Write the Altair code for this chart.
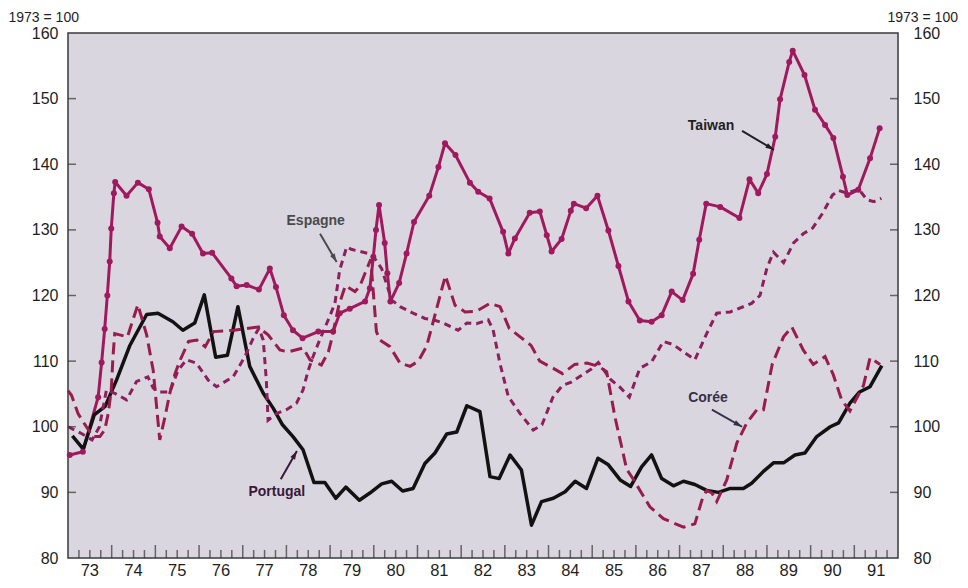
import math
import altair as alt
import pandas as pd

# ---------------- data ----------------
taiwan_t = [1973.04, 1973.34, 1973.69, 1973.77, 1973.84, 1973.90, 1973.955, 1973.99, 1974.05, 1974.08,
            1974.34, 1974.60, 1974.85, 1975.05, 1975.10, 1975.33, 1975.60, 1975.84, 1976.09, 1976.30,
            1976.74, 1976.86, 1977.09, 1977.37, 1977.62, 1977.76, 1977.94, 1978.15, 1978.37, 1978.73,
            1979.07, 1979.22, 1979.45, 1979.80, 1979.91, 1979.99, 1980.05, 1980.12, 1980.25, 1980.31,
            1980.38, 1980.58, 1980.75, 1980.92, 1981.27, 1981.48, 1981.63, 1981.87, 1982.20, 1982.39,
            1982.65, 1982.96, 1983.08, 1983.23, 1983.57, 1983.80, 1983.96, 1984.07, 1984.30, 1984.51,
            1984.58, 1984.86, 1985.12, 1985.37, 1985.60, 1985.83, 1986.09, 1986.36, 1986.59, 1986.82,
            1987.07, 1987.31, 1987.45, 1987.61, 1987.93, 1988.37, 1988.60, 1988.80, 1989.00, 1989.19,
            1989.30, 1989.51, 1989.59, 1989.86, 1990.10, 1990.33, 1990.52, 1990.74, 1990.84, 1991.09,
            1991.36, 1991.58]
taiwan_v = [95.7, 96.2, 104.5, 109.8, 114.9, 120.0, 125.2, 130.2, 135.6, 137.3,
            135.2, 137.2, 136.2, 131.1, 129.0, 127.2, 130.5, 129.4, 126.4, 126.5,
            122.6, 121.4, 121.6, 120.9, 124.1, 121.3, 117.0, 114.7, 113.5, 114.5,
            114.5, 117.3, 118.0, 119.1, 121.1, 125.9, 130.0, 133.8, 128.0, 123.4,
            119.1, 121.9, 126.4, 131.2, 135.2, 139.6, 143.2, 141.4, 137.2, 135.8,
            134.8, 129.7, 126.4, 128.7, 132.6, 132.8, 129.2, 126.7, 128.6, 132.9,
            134.0, 133.3, 135.2, 129.9, 124.5, 119.1, 116.2, 116.0, 117.0, 120.6,
            119.3, 123.3, 128.5, 134.0, 133.5, 131.8, 137.7, 135.6, 138.5, 144.2,
            149.9, 155.6, 157.3, 153.6, 148.3, 146.0, 144.0, 138.1, 135.3, 136.1,
            140.9, 145.5]

portugal_t = [1973.10, 1973.35, 1973.60, 1973.85, 1974.11, 1974.41, 1974.80, 1975.06, 1975.40, 1975.63,
              1975.90, 1976.12, 1976.38, 1976.65, 1976.89, 1977.16, 1977.47, 1977.70, 1977.91, 1978.15,
              1978.38, 1978.63, 1978.88, 1979.13, 1979.36, 1979.67, 1979.91, 1980.18, 1980.41, 1980.66,
              1980.90, 1981.17, 1981.40, 1981.67, 1981.90, 1982.13, 1982.43, 1982.66, 1982.87, 1983.12,
              1983.38, 1983.61, 1983.84, 1984.11, 1984.38, 1984.61, 1984.87, 1985.13, 1985.37, 1985.64,
              1985.88, 1986.13, 1986.36, 1986.59, 1986.86, 1987.09, 1987.35, 1987.62, 1987.89, 1988.16,
              1988.46, 1988.65, 1988.92, 1989.15, 1989.38, 1989.64, 1989.87, 1990.14, 1990.45, 1990.64,
              1990.90, 1991.12, 1991.36, 1991.63]
portugal_v = [98.6, 96.6, 101.8, 103.1, 107.1, 112.3, 117.1, 117.3, 116.0, 114.7,
              115.8, 120.1, 110.6, 110.9, 118.3, 109.2, 105.1, 102.8, 100.3, 98.5,
              96.5, 91.5, 91.5, 89.1, 90.8, 88.8, 89.9, 91.3, 91.7, 90.2,
              90.6, 94.4, 96.0, 98.9, 99.2, 103.2, 102.3, 92.4, 92.1, 95.7,
              93.4, 85.0, 88.6, 89.1, 90.1, 91.7, 90.6, 95.2, 94.2, 91.9,
              90.9, 93.9, 95.7, 92.1, 91.0, 91.7, 91.2, 90.3, 90.0, 90.6,
              90.6, 91.4, 93.2, 94.5, 94.5, 95.7, 96.0, 98.5, 100.0, 100.6,
              103.6, 105.3, 106.1, 109.3]

espagne_t = [1973.00, 1973.30, 1973.55, 1973.72, 1973.88, 1974.07, 1974.34, 1974.57, 1974.83, 1974.95,
             1975.10, 1975.33, 1975.52, 1975.71, 1975.94, 1976.21, 1976.40, 1976.78, 1977.05, 1977.24,
             1977.37, 1977.47, 1977.54, 1977.58, 1977.77, 1978.00, 1978.23, 1978.38, 1978.50, 1978.61,
             1978.76, 1978.99, 1979.11, 1979.22, 1979.38, 1979.50, 1979.88, 1980.05, 1980.18, 1980.41,
             1980.60, 1980.90, 1981.17, 1981.36, 1981.59, 1981.93, 1982.13, 1982.35, 1982.62, 1982.73,
             1982.89, 1983.08, 1983.35, 1983.65, 1983.85, 1984.10, 1984.32, 1984.52, 1984.75, 1984.98,
             1985.14, 1985.42, 1985.64, 1985.85, 1986.09, 1986.36, 1986.63, 1986.86, 1987.09, 1987.35,
             1987.62, 1987.85, 1988.16, 1988.65, 1988.84, 1989.00, 1989.15, 1989.38, 1989.61, 1989.83,
             1990.05, 1990.27, 1990.50, 1990.64, 1990.83, 1991.10, 1991.29, 1991.45, 1991.62]
espagne_v = [100.0, 99.0, 98.0, 100.0, 105.6, 105.1, 104.1, 106.9, 107.6, 105.9,
             105.3, 105.3, 108.6, 110.2, 109.7, 107.1, 106.1, 107.6, 110.7, 113.5,
             115.0, 113.2, 107.1, 101.0, 102.0, 102.6, 103.6, 105.6, 108.6, 110.7,
             113.2, 116.8, 118.8, 123.9, 127.4, 127.0, 126.4, 125.4, 124.1, 119.3,
             118.3, 117.3, 116.5, 116.3, 115.8, 114.7, 115.8, 115.7, 116.3, 114.8,
             109.6, 104.6, 102.0, 99.5, 100.3, 104.5, 106.3, 106.8, 107.8, 108.8,
             109.8, 107.2, 106.0, 104.5, 108.9, 109.9, 113.0, 112.5, 111.4, 110.2,
             114.2, 117.3, 117.5, 118.8, 120.0, 124.2, 126.6, 125.0, 128.0, 129.4,
             130.3, 132.5, 135.3, 136.0, 135.6, 136.2, 134.6, 134.3, 134.8]

coree_t = [1973.00, 1973.08, 1973.23, 1973.42, 1973.57, 1973.73, 1973.84, 1973.92, 1973.99, 1974.03,
           1974.07, 1974.36, 1974.60, 1974.80, 1974.95, 1975.10, 1975.22, 1975.33, 1975.45, 1975.57,
           1975.76, 1975.95, 1976.14, 1976.33, 1976.80, 1977.35, 1977.58, 1977.85, 1978.04, 1978.38,
           1978.54, 1978.80, 1978.96, 1979.03, 1979.20, 1979.35, 1979.57, 1979.68, 1979.80, 1979.93,
           1980.06, 1980.14, 1980.37, 1980.60, 1980.83, 1981.02, 1981.21, 1981.36, 1981.51, 1981.64,
           1981.86, 1982.09, 1982.35, 1982.66, 1982.89, 1983.10, 1983.35, 1983.60, 1983.80, 1984.11,
           1984.32, 1984.60, 1984.88, 1985.15, 1985.33, 1985.52, 1985.79, 1985.94, 1986.32, 1986.63,
           1987.09, 1987.35, 1987.51, 1987.62, 1987.74, 1987.85, 1988.08, 1988.31, 1988.54, 1988.77,
           1988.92, 1989.12, 1989.38, 1989.57, 1989.83, 1990.06, 1990.33, 1990.52, 1990.71, 1990.90,
           1991.21, 1991.36, 1991.59]
coree_v = [105.5, 104.8, 102.0, 100.0, 98.5, 98.5, 99.5, 102.0, 105.6, 110.7,
           114.2, 113.7, 118.6, 114.0, 108.6, 98.0, 101.5, 105.1, 108.1, 110.2,
           113.0, 113.2, 112.2, 114.5, 114.7, 115.2, 114.0, 111.7, 111.4, 112.0,
           110.2, 109.4, 111.4, 113.2, 118.5, 121.5, 120.6, 121.4, 123.4, 125.5,
           114.5, 113.2, 112.2, 109.7, 109.2, 110.0, 112.3, 116.0, 119.8, 123.0,
           118.5, 117.5, 117.6, 118.8, 118.3, 115.0, 113.7, 112.4, 110.0, 108.9,
           108.1, 109.5, 109.7, 109.2, 108.4, 101.5, 93.5, 92.0, 87.8, 86.0,
           84.7, 85.2, 88.8, 90.3, 89.9, 88.6, 91.9, 97.5, 100.6, 102.6,
           102.6, 109.5, 113.7, 115.2, 111.7, 109.5, 110.7, 107.9, 104.1, 102.4,
           106.3, 110.5, 109.5]

y_ticks = [80, 90, 100, 110, 120, 130, 140, 150, 160]
years = list(range(1973, 1992))
year_labels = ["73", "74", "75", "76", "77", "78", "79", "80", "81", "82",
               "83", "84", "85", "86", "87", "88", "89", "90", "91"]

ann_label = ["Taiwan", "Espagne", "Portugal", "Corée"]
ann_t = [1987.72, 1978.67, 1977.78, 1987.65]
ann_v = [145.8, 131.4, 90.0, 104.4]
arrow_t0 = [1988.43, 1978.77, 1977.87, 1987.74]
arrow_v0 = [145.1, 129.4, 92.0, 102.6]
arrow_t1 = [1989.16, 1979.15, 1978.24, 1988.43]
arrow_v1 = [142.2, 125.1, 96.3, 100.0]

# ---------------- styling ----------------
ann_colors = ["#1f1f24", "#4a4a4e", "#3a1838", "#34304a"]
C_TW = "#a0195e"
C_ES = "#8c1f5c"
C_KO = "#981c4c"
C_PT = "#121212"
AXC = "#333333"
TXT = "#1e1e1e"
FONT = "Liberation Sans"

W, H = 830, 525
T0, T1 = 1973, 1992
V0, V1 = 80, 160
PX_T = W / (T1 - T0)
PX_V = H / (V1 - V0)

xs = alt.Scale(domain=[T0, T1], nice=False, zero=False)
ys = alt.Scale(domain=[V0, V1], nice=False, zero=False)
X = alt.X("t:Q", scale=xs, axis=None)
Yn = alt.Y("v:Q", scale=ys, axis=None)


def frame(t, v):
    return pd.DataFrame({"t": t, "v": v})


def yaxis(orient, pad, title_x):
    return alt.Axis(orient=orient, values=y_ticks, domain=False, ticks=False, tickSize=0,
                    grid=False, labelFontSize=16, labelColor=TXT, labelPadding=pad,
                    title="1973 = 100", titleAngle=0, titleAlign="left",
                    titleBaseline="middle", titleX=title_x, titleY=-16,
                    titleFontSize=14, titleFontWeight="normal", titleColor=TXT)


taiwan_line = alt.Chart(frame(taiwan_t, taiwan_v)).mark_line(
    color=C_TW, strokeWidth=3, strokeJoin="round").encode(
    x=X, y=alt.Y("v:Q", scale=ys, axis=yaxis("left", 10, -60)))
taiwan_pts = alt.Chart(frame(taiwan_t, taiwan_v)).mark_circle(
    color=C_TW, size=36, opacity=1).encode(x=X, y=Yn)
portugal_line = alt.Chart(frame(portugal_t, portugal_v)).mark_line(
    color=C_PT, strokeWidth=3.5, strokeJoin="round").encode(
    x=X, y=alt.Y("v:Q", scale=ys, axis=yaxis("right", 15, -11)))
espagne_line = alt.Chart(frame(espagne_t, espagne_v)).mark_line(
    color=C_ES, strokeWidth=3, strokeDash=[7, 5]).encode(x=X, y=Yn)
coree_line = alt.Chart(frame(coree_t, coree_v)).mark_line(
    color=C_KO, strokeWidth=3, strokeDash=[12, 6]).encode(x=X, y=Yn)

# axis ticks (inside the frame)
ytick_df = pd.DataFrame({"v": y_ticks[1:-1]})
left_ticks = alt.Chart(ytick_df).mark_tick(orient="horizontal", size=8, thickness=1.5,
                                           color=AXC).encode(y=Yn, x=alt.value(4))
right_ticks = alt.Chart(ytick_df).mark_tick(orient="horizontal", size=8, thickness=1.5,
                                            color=AXC).encode(y=Yn, x=alt.value(W - 4))
minor_df = pd.DataFrame({"t": [T0 + q / 4 for q in range(1, 4 * (T1 - T0)) if q % 4]})
major_df = pd.DataFrame({"t": years[1:]})
minor_ticks = alt.Chart(minor_df).mark_tick(orient="vertical", size=8, thickness=1.5,
                                            color=AXC).encode(x=X, y=alt.value(H - 4))
major_ticks = alt.Chart(major_df).mark_tick(orient="vertical", size=13, thickness=1.5,
                                            color=AXC).encode(x=X, y=alt.value(H - 6.5))
year_df = pd.DataFrame({"t": [y + 0.5 for y in years], "label": year_labels})
year_text = alt.Chart(year_df).mark_text(fontSize=16.5, color=TXT, baseline="middle").encode(
    x=X, y=alt.value(H + 13), text="label:N")

# annotations
ann_df = pd.DataFrame({"t": ann_t, "v": ann_v, "label": ann_label, "color": ann_colors})
ann_text = alt.Chart(ann_df).mark_text(fontSize=14, fontWeight="bold").encode(
    x=X, y=Yn, text="label:N", color=alt.Color("color:N", scale=None))

angles = []
for a, b, c, d in zip(arrow_t0, arrow_v0, arrow_t1, arrow_v1):
    dx = (c - a) * PX_T
    dy = -(d - b) * PX_V
    angles.append(math.degrees(math.atan2(dx, -dy)) % 360)
arrow_df = pd.DataFrame({"t0": arrow_t0, "v0": arrow_v0, "t1": arrow_t1, "v1": arrow_v1,
                         "angle": angles, "color": ann_colors})
arrow_lines = alt.Chart(arrow_df).mark_rule(strokeWidth=2).encode(
    x=alt.X("t0:Q", scale=xs, axis=None), x2="t1:Q",
    y=alt.Y("v0:Q", scale=ys, axis=None), y2="v1:Q",
    color=alt.Color("color:N", scale=None))
arrow_heads = alt.Chart(arrow_df).mark_point(
    shape="M0,0L0.6,1.9L-0.6,1.9Z", filled=True, size=80, opacity=1, strokeWidth=0).encode(
    x=alt.X("t1:Q", scale=xs, axis=None), y=alt.Y("v1:Q", scale=ys, axis=None),
    angle=alt.Angle("angle:Q", scale=None), color=alt.Color("color:N", scale=None))

chart = alt.layer(
    taiwan_line, portugal_line, taiwan_pts, espagne_line, coree_line,
    left_ticks, right_ticks, minor_ticks, major_ticks, year_text,
    arrow_lines, arrow_heads, ann_text
).resolve_axis(y="independent").properties(
    width=W, height=H,
    autosize=alt.AutoSizeParams(type="none"),
    padding={"left": 60, "top": 25, "right": 62, "bottom": 20},
).configure(font=FONT).configure_view(fill="#dad6df", stroke="#3a3a3a", strokeWidth=1.5)

chart.save("out.html", embed_options={"renderer": "svg", "actions": False})
